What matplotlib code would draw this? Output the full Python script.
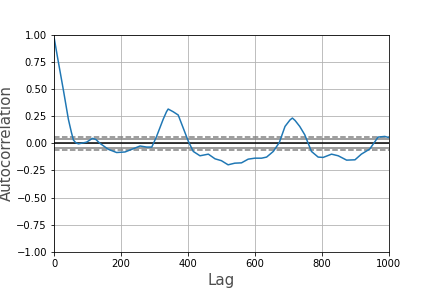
import numpy as np
import matplotlib
matplotlib.use("Agg")
import matplotlib.pyplot as plt

# series length, shown lag range and autocorrelation values
n = 2000
max_lag = 1000
lags = [1, 10, 28, 43, 52, 58, 65, 73, 97, 115, 125, 137, 162, 187, 212, 237,
        257, 277, 292, 306, 326, 336, 341, 356, 371, 386, 401, 416, 436, 461,
        481, 500, 520, 540, 560, 580, 600, 620, 635, 655, 673, 690, 705, 712,
        720, 734, 749, 769, 789, 804, 829, 849, 874, 899, 918, 943, 968, 988,
        1000]
acf = [0.96, 0.80, 0.49, 0.22, 0.10, 0.03, 0.005, -0.005, 0.01, 0.045, 0.035,
       0.0, -0.055, -0.085, -0.08, -0.05, -0.025, -0.035, -0.035, 0.06, 0.22,
       0.29, 0.315, 0.29, 0.26, 0.14, 0.02, -0.075, -0.115, -0.10, -0.143,
       -0.16, -0.198, -0.183, -0.18, -0.146, -0.137, -0.137, -0.127, -0.075,
       0.007, 0.155, 0.215, 0.232, 0.21, 0.155, 0.078, -0.075, -0.127, -0.13,
       -0.10, -0.115, -0.155, -0.152, -0.10, -0.053, 0.057, 0.063, 0.053]

z95 = 1.959963984540054
z99 = 2.5758293035489004

fig, ax = plt.subplots(figsize=(6, 4), dpi=72)
fig.subplots_adjust(left=0.125, right=0.9, top=0.88, bottom=0.125)

ax.set_xlim(0, max_lag)
ax.set_ylim(-1.0, 1.0)
ax.axhline(y=z99 / np.sqrt(n), linestyle="--", color="grey")
ax.axhline(y=z95 / np.sqrt(n), color="grey")
ax.axhline(y=0.0, color="black")
ax.axhline(y=-z95 / np.sqrt(n), color="grey")
ax.axhline(y=-z99 / np.sqrt(n), linestyle="--", color="grey")
ax.plot(lags, acf)

ax.set_xticks(range(0, max_lag + 1, 200))
ax.set_yticks(np.arange(-1.0, 1.01, 0.25))
ax.set_xlabel("Lag", fontsize=15, color="0.3")
ax.set_ylabel("Autocorrelation", fontsize=15, color="0.3", labelpad=2)
ax.grid()

plt.savefig("out.png", dpi=72)
